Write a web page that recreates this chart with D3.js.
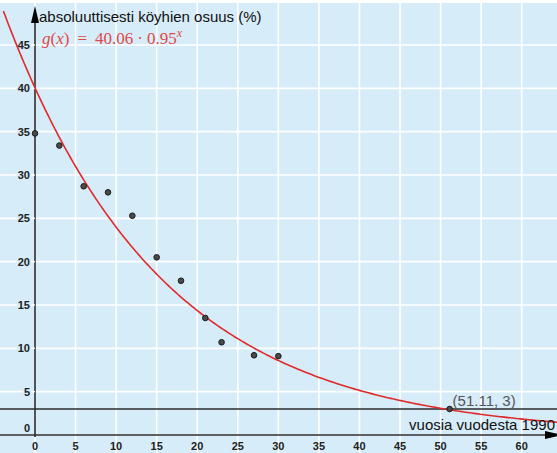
<!DOCTYPE html>
<html>
<head>
<meta charset="utf-8">
<script src="https://cdn.jsdelivr.net/npm/d3@7"></script>
<style>
  body { margin: 0; background: #fff; }
  svg { display: block; }
</style>
</head>
<body>
<div id="chart"></div>
<script>
// data
const years = [0, 3, 6, 9, 12, 15, 18, 21, 23, 27, 30];
const shares = [34.8, 33.4, 28.7, 28.0, 25.3, 20.5, 17.8, 13.5, 10.7, 9.2, 9.1];
const xTicks = [0, 5, 10, 15, 20, 25, 30, 35, 40, 45, 50, 55, 60];
const yTicks = [0, 5, 10, 15, 20, 25, 30, 35, 40, 45];
const fitA = 40.06, fitB = 0.95;       // g(x) = a * b^x
const limitLevel = 3;
const crossing = [51.11, 3];

const width = 557, height = 453;
const font = "Liberation Sans, Arial, sans-serif";
const bg = "#d6ecf9";

const svg = d3.select("#chart").append("svg")
    .attr("width", width)
    .attr("height", height);

const x = d3.scaleLinear().domain([0, 60]).range([35, 521.7]);
const y = d3.scaleLinear().domain([0, 45]).range([435, 45]);

// background
svg.append("rect")
    .attr("x", 0).attr("y", 3)
    .attr("width", width).attr("height", height - 3)
    .attr("fill", bg);

// grid
const xmin = x.invert(0), xmax = x.invert(width);
const ymax = y.invert(0), ymin = y.invert(height);
const gx = d3.range(Math.ceil(xmin / 5) * 5, xmax, 5);
const gy = d3.range(Math.ceil(ymin / 5) * 5, ymax, 5);

svg.append("g").selectAll("line").data(gx).join("line")
    .attr("x1", d => x(d)).attr("x2", d => x(d))
    .attr("y1", 0).attr("y2", height)
    .attr("stroke", "#fff").attr("stroke-width", 1.6);
svg.append("g").selectAll("line").data(gy).join("line")
    .attr("x1", 0).attr("x2", width)
    .attr("y1", d => y(d)).attr("y2", d => y(d))
    .attr("stroke", "#fff").attr("stroke-width", 1.6);

// axes
const axisColor = "#2b2b2b";
svg.append("line")
    .attr("x1", 0).attr("x2", width - 8)
    .attr("y1", y(0)).attr("y2", y(0))
    .attr("stroke", axisColor).attr("stroke-width", 1.6);
svg.append("line")
    .attr("x1", x(0)).attr("x2", x(0))
    .attr("y1", 12).attr("y2", y(0) + 2)
    .attr("stroke", axisColor).attr("stroke-width", 1.6);

// arrow heads
svg.append("path")
    .attr("d", `M${x(0)},6 L${x(0) - 4},23 L${x(0) + 4},23 Z`)
    .attr("fill", "#000");
svg.append("path")
    .attr("d", `M${width + 6},${y(0)} L${width - 12},${y(0) - 4} L${width - 12},${y(0) + 4} Z`)
    .attr("fill", "#000");

// tick labels
svg.append("g").selectAll("text").data(xTicks).join("text")
    .attr("x", d => x(d))
    .attr("y", y(0) + 15)
    .attr("text-anchor", "middle")
    .style("font", `bold 11px ${font}`)
    .attr("fill", "#222")
    .text(d => d);

svg.append("g").selectAll("text").data(yTicks).join("text")
    .attr("x", x(0) - 5)
    .attr("y", d => d === 0 ? y(0) - 3 : y(d) + 4)
    .attr("text-anchor", "end")
    .style("font", `bold 11px ${font}`)
    .attr("fill", "#222")
    .attr("stroke", bg).attr("stroke-width", 3)
    .attr("paint-order", "stroke")
    .text(d => d);

// small tick marks on y-axis
svg.append("g").selectAll("line").data(yTicks.filter(d => d > 0)).join("line")
    .attr("x1", x(0) - 3).attr("x2", x(0))
    .attr("y1", d => y(d)).attr("y2", d => y(d))
    .attr("stroke", "#fff").attr("stroke-width", 1.4);

// horizontal line y = 3
svg.append("line")
    .attr("x1", 0).attr("x2", width)
    .attr("y1", y(limitLevel)).attr("y2", y(limitLevel))
    .attr("stroke", axisColor).attr("stroke-width", 1.6);

// fitted curve
const curve = d3.range(-3.9, xmax + 0.5, 0.25).map(t => [t, fitA * Math.pow(fitB, t)]);
svg.append("path")
    .datum(curve)
    .attr("fill", "none")
    .attr("stroke", "#e02a2a")
    .attr("stroke-width", 1.6)
    .attr("d", d3.line().x(d => x(d[0])).y(d => y(d[1])));

// data points
svg.append("g").selectAll("circle").data(years).join("circle")
    .attr("cx", d => x(d))
    .attr("cy", (d, i) => y(shares[i]))
    .attr("r", 2.8)
    .attr("fill", "#4a4a4a")
    .attr("stroke", "#1a1a1a")
    .attr("stroke-width", 1);

svg.append("circle")
    .attr("cx", x(crossing[0])).attr("cy", y(crossing[1]))
    .attr("r", 2.8)
    .attr("fill", "#4a4a4a")
    .attr("stroke", "#1a1a1a")
    .attr("stroke-width", 1);

svg.append("text")
    .attr("x", x(crossing[0]) + 3)
    .attr("y", y(crossing[1]) - 3)
    .style("font", `15px ${font}`)
    .attr("fill", "#555")
    .text(`(${crossing[0]}, ${crossing[1]})`);

// axis titles
svg.append("text")
    .attr("x", 39).attr("y", 22)
    .style("font", `15px ${font}`)
    .attr("fill", "#111")
    .text("absoluuttisesti köyhien osuus (%)");

svg.append("text")
    .attr("x", width - 2).attr("y", 430)
    .attr("text-anchor", "end")
    .style("font", `15px ${font}`)
    .attr("fill", "#111")
    .text("vuosia vuodesta 1990");

// formula label
const f = svg.append("text")
    .attr("x", 42).attr("y", 44)
    .style("font", `17px "Liberation Serif", "DejaVu Serif", serif`)
    .attr("fill", "#e04848");
f.append("tspan").style("font-style", "italic").text("g");
f.append("tspan").text("(");
f.append("tspan").style("font-style", "italic").text("x");
f.append("tspan").text(")");
f.append("tspan").attr("dx", 8).text("=");
f.append("tspan").attr("dx", 8).text(fitA);
f.append("tspan").attr("dx", 4).text("·");
f.append("tspan").attr("dx", 4).text(fitB);
f.append("tspan").style("font-style", "italic").style("font-size", "12px").attr("dy", -7).text("x");
</script>
</body>
</html>
